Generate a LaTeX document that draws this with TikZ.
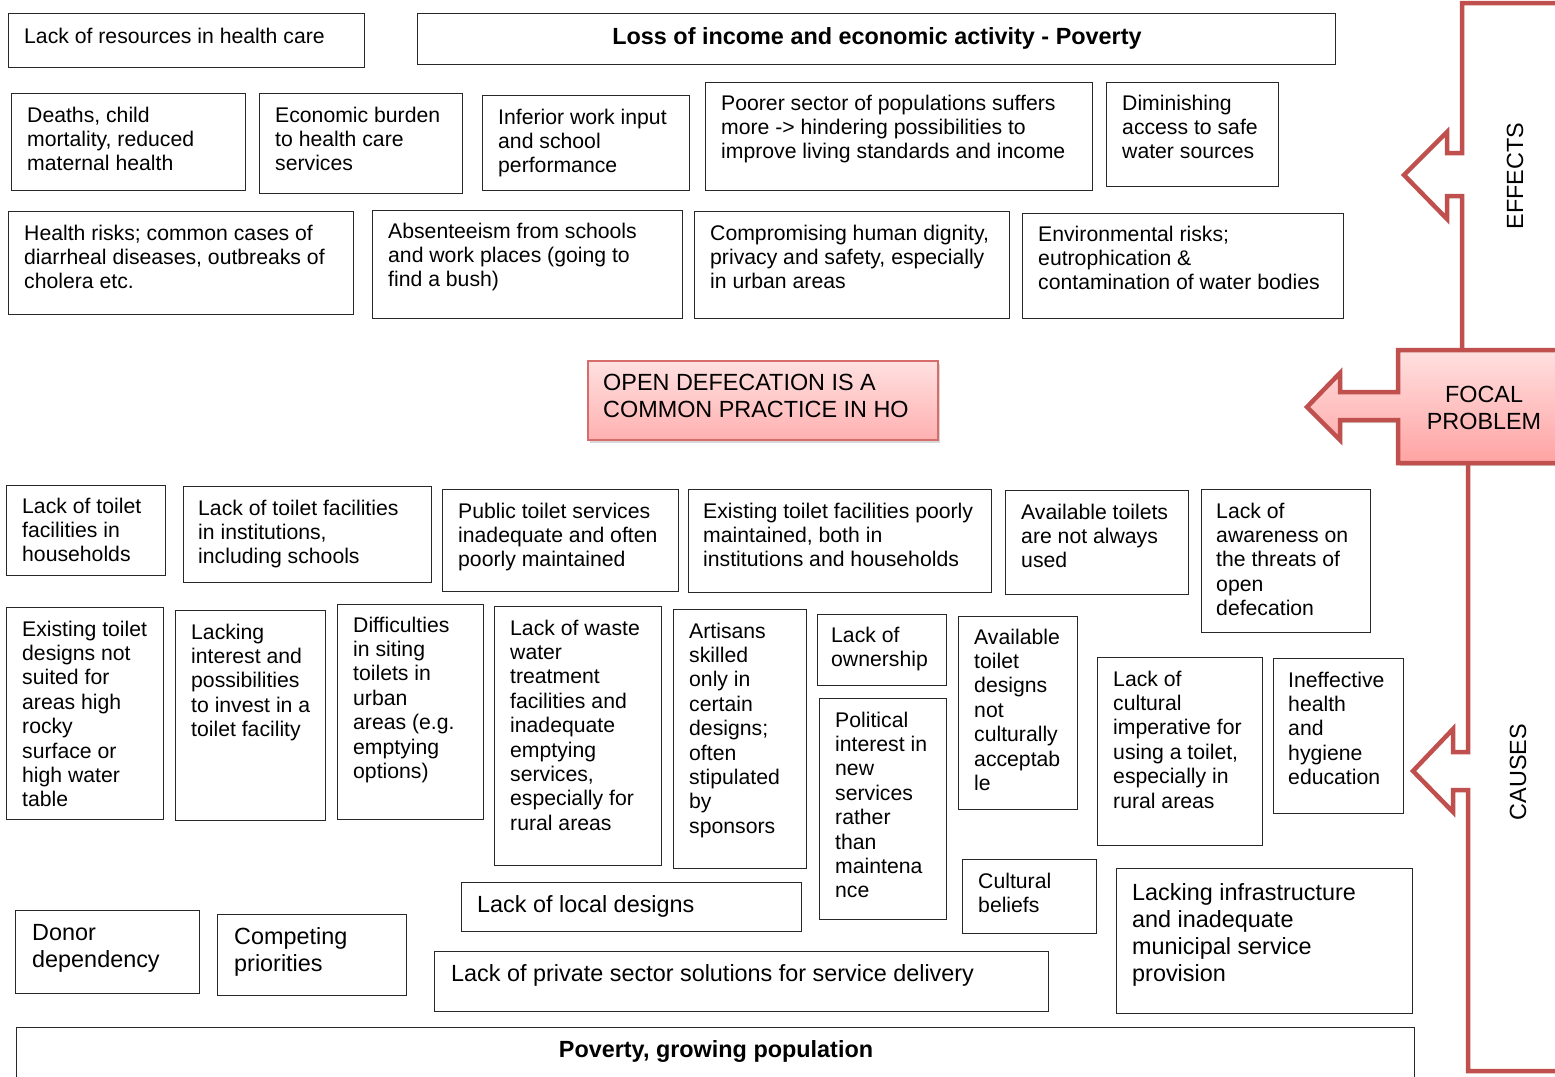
\documentclass[tikz,border=0pt]{standalone}
\usepackage{fontspec}
\setmainfont{Liberation Sans}
\usetikzlibrary{shadows}

\definecolor{arrowred}{RGB}{192,80,77}
\definecolor{focaltop}{RGB}{255,224,224}
\definecolor{focalbot}{RGB}{255,163,163}
\definecolor{coreline}{RGB}{214,108,108}
\definecolor{boxline}{RGB}{40,40,40}

\newcommand\nsz{\fontsize{21.2}{24.4}\selectfont}
\newcommand\bsz{\fontsize{23.4}{27}\selectfont}

\tikzset{
  cell/.style={draw=boxline, line width=1.4pt, inner sep=0pt, anchor=north west},
  txt/.style={anchor=north west, inner sep=0pt, align=left, font=\nsz, yshift=9.1pt},
  bigtxt/.style={anchor=north west, inner sep=0pt, align=left, font=\bsz, yshift=10.4pt},
  redline/.style={draw=arrowred, line width=4.5pt, line join=miter},
}

% box with top-left aligned text: [style]{name}{x1}{y1}{x2}{y2}{text x}{first line y}{text}
\newcommand\tbox[9][txt]{%
  \node[cell, minimum width={(#5-#3)*1pt}, minimum height={(#6-#4)*1pt}] (#2) at (#3,#4) {};
  \node[#1] (#2-text) at (#7,#8) {\strut #9};}

\begin{document}
\begin{tikzpicture}[x=1pt,y=-1pt]
\useasboundingbox (0,0) rectangle (1555,1076);
\clip (0,0) rectangle (1555,1076);
\fill[white] (0,0) rectangle (1555,1076);

% ---------- effects ----------
\node[cell, minimum width=918pt, minimum height=51pt] (loss) at (417,13) {};
\node[font=\bsz\bfseries, inner sep=0pt] (loss-text) at (877,38.5) {Loss of income and economic activity - Poverty};

\tbox{res}{8}{13}{364}{67}{24}{35}{Lack of resources in health care}
\tbox{deaths}{11}{93}{245}{190}{27}{114}{Deaths, child\\mortality, reduced\\maternal health}
\tbox{burden}{259}{93}{462}{193}{275}{114}{Economic burden\\to health care\\services}
\tbox{work}{482}{95}{689}{190}{498}{116}{Inferior work input\\and school\\performance}
\tbox{poorer}{705}{82}{1092}{190}{721}{102}{Poorer sector of populations suffers\\more -> hindering possibilities to\\improve living standards and income}
\tbox{water}{1106}{82}{1278}{186}{1122}{102}{Diminishing\\access to safe\\water sources}
\tbox{risks}{8}{211}{353}{314}{24}{232}{Health risks; common cases of\\diarrheal diseases, outbreaks of\\cholera etc.}
\tbox{absent}{372}{210}{682}{318}{388}{230}{Absenteeism from schools\\and work places (going to\\find a bush)}
\tbox{dignity}{694}{211}{1009}{318}{710}{232}{Compromising human dignity,\\privacy and safety, especially\\in urban areas}
\tbox{env}{1022}{213}{1343}{318}{1038}{233}{Environmental risks;\\eutrophication \&\\contamination of water bodies}

% ---------- core problem ----------
\node[anchor=north west, minimum width=350pt, minimum height=79pt, inner sep=0pt,
      draw=coreline, line width=1.6pt, top color=focaltop, bottom color=focalbot!85,
      drop shadow={opacity=0.3, shadow xshift=2pt, shadow yshift=-3pt}] (core) at (587,360) {};
\node[bigtxt] (core-text) at (603,381.5) {\strut OPEN DEFECATION IS A\\COMMON PRACTICE IN HO};

% ---------- causes ----------
\tbox{hh}{6}{485}{165}{575}{22}{505}{Lack of toilet\\facilities in\\households}
\tbox{inst}{183}{486}{431}{582}{198}{507}{Lack of toilet facilities\\in institutions,\\including schools}
\tbox{public}{442}{489}{678}{591}{458}{510}{Public toilet services\\inadequate and often\\poorly maintained}
\tbox{maint}{688}{489}{991}{592}{703}{510}{Existing toilet facilities poorly\\maintained, both in\\institutions and households}
\tbox{used}{1005}{490}{1188}{594}{1021}{511}{Available toilets\\are not always\\used}
\tbox{aware}{1201}{489}{1370}{632}{1216}{510}{Lack of\\awareness on\\the threats of\\open\\defecation}
\tbox{rocky}{6}{607}{163}{819}{22}{628}{Existing toilet\\designs not\\suited for\\areas high\\rocky\\surface or\\high water\\table}
\tbox{invest}{175}{610}{325}{820}{191}{631}{Lacking\\interest and\\possibilities\\to invest in a\\toilet facility}
\tbox{siting}{337}{604}{483}{819}{353}{624}{Difficulties\\in siting\\toilets in\\urban\\areas (e.g.\\emptying\\options)}
\tbox{waste}{494}{606}{661}{865}{510}{627}{Lack of waste\\water\\treatment\\facilities and\\inadequate\\emptying\\services,\\especially for\\rural areas}
\tbox{artisans}{673}{609}{806}{868}{689}{630}{Artisans\\skilled\\only in\\certain\\designs;\\often\\stipulated\\by\\sponsors}
\tbox{owner}{817}{614}{946}{685}{831}{634}{Lack of\\ownership}
\tbox{political}{819}{698}{946}{919}{835}{719}{Political\\interest in\\new\\services\\rather\\than\\maintena\\nce}
\tbox{designs}{958}{616}{1077}{809}{974}{636}{Available\\toilet\\designs\\not\\culturally\\acceptab\\le}
\tbox{imper}{1097}{657}{1262}{845}{1113}{678}{Lack of\\cultural\\imperative for\\using a toilet,\\especially in\\rural areas}
\tbox{hygiene}{1273}{658}{1403}{813}{1288}{679}{Ineffective\\health\\and\\hygiene\\education}
\tbox[bigtxt]{local}{461}{882}{801}{931}{477}{904}{Lack of local designs}
\tbox{beliefs}{962}{859}{1096}{933}{978}{880}{Cultural\\beliefs}
\tbox[bigtxt]{infra}{1116}{868}{1412}{1013}{1132}{892}{Lacking infrastructure\\and inadequate\\municipal service\\provision}
\tbox[bigtxt]{donor}{15}{910}{199}{993}{32}{932}{Donor\\dependency}
\tbox[bigtxt]{compete}{217}{914}{406}{995}{234}{936}{Competing\\priorities}
\tbox[bigtxt]{private}{434}{951}{1048}{1011}{451}{973}{Lack of private sector solutions for service delivery}

\node[cell, minimum width=1398pt, minimum height=70pt] (poverty) at (16,1027) {};
\node[font=\bsz\bfseries, inner sep=0pt] (poverty-text) at (716,1051.5) {Poverty, growing population};

% ---------- side frame: effects / focal problem / causes ----------
\draw[redline] (1600,3) -- (1462,3) -- (1462,153) -- (1447,153) -- (1447,132)
  -- (1404,175) -- (1447,219) -- (1447,196) -- (1462,196) -- (1462,352);
\draw[redline] (1468,460) -- (1468,752) -- (1453,752) -- (1453,729)
  -- (1413,771) -- (1453,812) -- (1453,790) -- (1468,790) -- (1468,1071) -- (1600,1071);

\path[redline, top color=focaltop, bottom color=focalbot,
      drop shadow={opacity=0.3, shadow xshift=2pt, shadow yshift=-3pt}]
  (1600,350) -- (1398,350) -- (1398,392) -- (1340,392) -- (1340,373) -- (1307,407)
  -- (1340,440) -- (1340,420) -- (1398,420) -- (1398,463) -- (1600,463);
\node[font=\bsz, align=center, inner sep=0pt] (focal) at (1484,408) {FOCAL\\PROBLEM};

\node[font=\bsz, rotate=90, inner sep=0pt] (effects) at (1515,176) {EFFECTS};
\node[font=\bsz, rotate=90, inner sep=0pt] (causes) at (1518,772) {CAUSES};
\end{tikzpicture}
\end{document}
